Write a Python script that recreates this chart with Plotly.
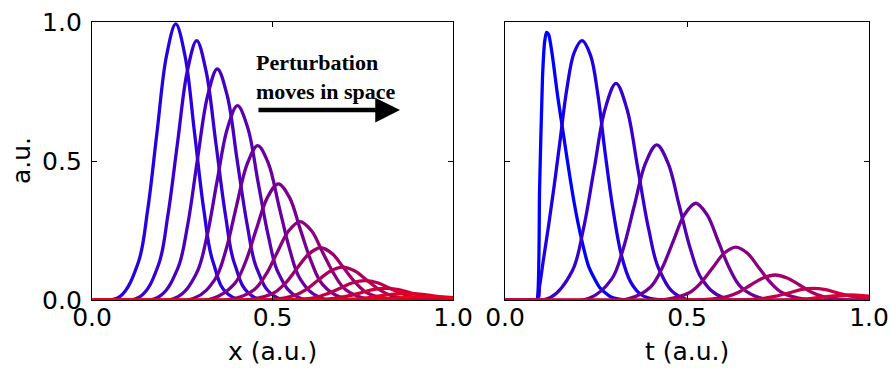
import plotly.graph_objects as go

# ---------------- data ----------------
# Left panel: profiles in space, x (a.u.)
left_x = [
    [0.0, 0.076, 0.128, 0.154, 0.180, 0.206, 0.232, 0.258, 0.284, 0.310, 0.336, 0.388, 1.2],
    [0.0, 0.131, 0.184, 0.210, 0.237, 0.264, 0.290, 0.316, 0.343, 0.370, 0.396, 0.449, 1.2],
    [0.0, 0.182, 0.237, 0.265, 0.292, 0.320, 0.347, 0.375, 0.402, 0.430, 0.457, 0.512, 1.2],
    [0.0, 0.232, 0.289, 0.318, 0.346, 0.375, 0.403, 0.432, 0.460, 0.489, 0.517, 0.574, 1.2],
    [0.0, 0.282, 0.341, 0.371, 0.400, 0.430, 0.459, 0.489, 0.518, 0.548, 0.577, 0.636, 1.2],
    [0.0, 0.333, 0.394, 0.425, 0.455, 0.486, 0.516, 0.547, 0.577, 0.608, 0.638, 0.699, 1.2],
    [0.0, 0.387, 0.450, 0.482, 0.513, 0.545, 0.576, 0.608, 0.639, 0.671, 0.702, 0.765, 1.2],
    [0.0, 0.438, 0.503, 0.536, 0.568, 0.601, 0.633, 0.666, 0.698, 0.731, 0.763, 0.828, 1.2],
    [0.0, 0.493, 0.560, 0.594, 0.627, 0.661, 0.694, 0.728, 0.761, 0.795, 0.828, 0.895, 1.2],
    [0.0, 0.549, 0.618, 0.653, 0.687, 0.722, 0.756, 0.791, 0.825, 0.860, 0.894, 0.963, 1.2],
    [0.0, 0.600, 0.671, 0.707, 0.742, 0.778, 0.813, 0.849, 0.884, 0.920, 0.955, 1.026, 1.2],
    [0.0, 0.653, 0.726, 0.763, 0.799, 0.836, 0.872, 0.909, 0.945, 0.982, 1.018, 1.091, 1.2],
    [0.0, 0.705, 0.780, 0.818, 0.855, 0.893, 0.930, 0.968, 1.005, 1.043, 1.080, 1.155, 1.2],
]
left_y = [
    [0.0, 0.011, 0.134, 0.322, 0.602, 0.876, 0.993, 0.876, 0.602, 0.322, 0.134, 0.011, 0.0],
    [0.0, 0.010, 0.126, 0.303, 0.566, 0.823, 0.933, 0.823, 0.566, 0.303, 0.126, 0.010, 0.0],
    [0.0, 0.009, 0.112, 0.270, 0.504, 0.733, 0.831, 0.733, 0.504, 0.270, 0.112, 0.009, 0.0],
    [0.0, 0.008, 0.095, 0.227, 0.424, 0.617, 0.699, 0.617, 0.424, 0.227, 0.095, 0.008, 0.0],
    [0.0, 0.006, 0.075, 0.180, 0.337, 0.490, 0.555, 0.490, 0.337, 0.180, 0.075, 0.006, 0.0],
    [0.0, 0.005, 0.057, 0.136, 0.254, 0.369, 0.418, 0.369, 0.254, 0.136, 0.057, 0.005, 0.0],
    [0.0, 0.003, 0.038, 0.092, 0.171, 0.249, 0.282, 0.249, 0.171, 0.092, 0.038, 0.003, 0.0],
    [0.0, 0.002, 0.025, 0.061, 0.114, 0.166, 0.188, 0.166, 0.114, 0.061, 0.025, 0.002, 0.0],
    [0.0, 0.001, 0.016, 0.038, 0.072, 0.104, 0.118, 0.104, 0.072, 0.038, 0.016, 0.001, 0.0],
    [0.0, 0.001, 0.009, 0.023, 0.042, 0.062, 0.070, 0.062, 0.042, 0.023, 0.009, 0.001, 0.0],
    [0.0, 0.000, 0.006, 0.014, 0.025, 0.037, 0.042, 0.037, 0.025, 0.014, 0.006, 0.000, 0.0],
    [0.0, 0.000, 0.003, 0.008, 0.015, 0.021, 0.024, 0.021, 0.015, 0.008, 0.003, 0.000, 0.0],
    [0.0, 0.000, 0.002, 0.004, 0.008, 0.011, 0.013, 0.011, 0.008, 0.004, 0.002, 0.000, 0.0],
]

# Right panel: signals in time, t (a.u.)
right_t = [
    [0.0, 0.080, 0.087, 0.095, 0.103, 0.109, 0.114, 0.120, 0.130, 0.145, 0.160, 0.175, 0.190, 0.210, 0.230, 0.260, 0.290, 0.330, 1.2],
    [0.0, 0.088, 0.095, 0.105, 0.120, 0.135, 0.150, 0.170, 0.190, 0.2115, 0.235, 0.255, 0.275, 0.295, 0.320, 0.345, 0.375, 0.410, 0.450, 1.2],
    [0.0, 0.125, 0.185, 0.215, 0.245, 0.275, 0.305, 0.335, 0.365, 0.395, 0.425, 0.485, 1.2],
    [0.0, 0.231, 0.293, 0.324, 0.355, 0.386, 0.417, 0.448, 0.479, 0.510, 0.541, 0.603, 1.2],
    [0.0, 0.338, 0.400, 0.431, 0.462, 0.493, 0.524, 0.555, 0.586, 0.617, 0.648, 0.710, 1.2],
    [0.0, 0.442, 0.506, 0.538, 0.570, 0.602, 0.634, 0.666, 0.698, 0.730, 0.762, 0.826, 1.2],
    [0.0, 0.544, 0.610, 0.643, 0.676, 0.709, 0.742, 0.775, 0.808, 0.841, 0.874, 0.940, 1.2],
    [0.0, 0.643, 0.711, 0.745, 0.779, 0.813, 0.847, 0.881, 0.915, 0.949, 0.983, 1.051, 1.2],
    [0.0, 0.738, 0.808, 0.843, 0.878, 0.913, 0.948, 0.983, 1.018, 1.053, 1.088, 1.158, 1.2],
]
right_y = [
    [0.0, 0.0, 0.0, 0.40, 0.80, 0.93, 0.963, 0.955, 0.88, 0.73, 0.60, 0.47, 0.35, 0.22, 0.12, 0.045, 0.012, 0.0, 0.0],
    [0.0, 0.0, 0.05, 0.14, 0.27, 0.41, 0.56, 0.76, 0.89, 0.933, 0.88, 0.74, 0.53, 0.34, 0.16, 0.065, 0.018, 0.003, 0.0, 0.0],
    [0.0, 0.009, 0.105, 0.253, 0.472, 0.687, 0.779, 0.687, 0.472, 0.253, 0.105, 0.009, 0.0],
    [0.0, 0.006, 0.075, 0.181, 0.338, 0.492, 0.558, 0.492, 0.338, 0.181, 0.075, 0.006, 0.0],
    [0.0, 0.004, 0.047, 0.113, 0.211, 0.307, 0.348, 0.307, 0.211, 0.113, 0.047, 0.004, 0.0],
    [0.0, 0.002, 0.026, 0.062, 0.115, 0.168, 0.190, 0.168, 0.115, 0.062, 0.026, 0.002, 0.0],
    [0.0, 0.001, 0.012, 0.029, 0.055, 0.079, 0.090, 0.079, 0.055, 0.029, 0.012, 0.001, 0.0],
    [0.0, 0.000, 0.006, 0.014, 0.025, 0.037, 0.042, 0.037, 0.025, 0.014, 0.006, 0.000, 0.0],
    [0.0, 0.000, 0.002, 0.006, 0.011, 0.016, 0.018, 0.016, 0.011, 0.006, 0.002, 0.000, 0.0],
]

tick_vals = [0.0, 0.5, 1.0]
tick_text = ["0.0", "0.5", "1.0"]
x_title_left = "x (a.u.)"
x_title_right = "t (a.u.)"
y_title = "a.u."
note_text = "<b>Perturbation<br>moves in space</b>"

# ---------------- styles ----------------
def blend(c0, c1, n):
    out = []
    for i in range(n):
        f = i / (n - 1) if n > 1 else 0
        r = round(c0[0] + (c1[0] - c0[0]) * f)
        g = round(c0[1] + (c1[1] - c0[1]) * f)
        b = round(c0[2] + (c1[2] - c0[2]) * f)
        out.append(f"rgb({r},{g},{b})")
    return out

left_colors = blend((40, 0, 225), (235, 0, 25), len(left_x))
right_colors = blend((0, 0, 255), (220, 0, 50), len(right_t))

W, H = 891, 370
# plot areas in pixels
L_x0, L_x1 = 92, 453
R_x0, R_x1 = 505, 869
P_top, P_bot = 22, 300

fig = go.Figure()
for xs, ys, c in zip(left_x, left_y, left_colors):
    fig.add_trace(go.Scatter(x=xs, y=ys, mode="lines", xaxis="x", yaxis="y",
                             line=dict(color=c, width=3.3, shape="spline"),
                             hoverinfo="skip", showlegend=False))
for i, (xs, ys, c) in enumerate(zip(right_t, right_y, right_colors)):
    fig.add_trace(go.Scatter(x=xs, y=ys, mode="lines", xaxis="x2", yaxis="y2",
                             line=dict(color=c, width=3.3, shape="spline",
                                       smoothing=0.6 if i == 0 else 1.0),
                             hoverinfo="skip", showlegend=False))

font_main = "DejaVu Sans"
axis_common = dict(range=[0, 1], tickvals=tick_vals, ticktext=tick_text,
                   ticks="inside", ticklen=5, tickwidth=1.2, tickcolor="black",
                   showline=True, linecolor="black", linewidth=1.3, mirror="ticks",
                   showgrid=False, zeroline=False, automargin=False,
                   tickfont=dict(family=font_main, size=25, color="black"))

ydom = [(H - P_bot) / H, (H - P_top) / H]
fig.update_layout(
    width=W, height=H,
    margin=dict(l=0, r=0, t=0, b=0, pad=0, autoexpand=False),
    paper_bgcolor="white", plot_bgcolor="white",
    showlegend=False,
    xaxis=dict(domain=[L_x0 / W, L_x1 / W], anchor="y", ticklabelstandoff=-5, **axis_common),
    yaxis=dict(domain=ydom, anchor="x", ticklabelstandoff=4, **axis_common),
    xaxis2=dict(domain=[R_x0 / W, R_x1 / W], anchor="y2", ticklabelstandoff=-5, **axis_common),
    yaxis2=dict(domain=ydom, anchor="x2", showticklabels=False, **axis_common),
)

# axis titles
for txt, cx in ((x_title_left, (L_x0 + L_x1) / 2), (x_title_right, (R_x0 + R_x1) / 2)):
    fig.add_annotation(text=txt, xref="paper", yref="paper",
                       x=cx / W, y=(H - 351) / H, xanchor="center", yanchor="middle",
                       showarrow=False, font=dict(family=font_main, size=25, color="black"))
fig.add_annotation(text=y_title, xref="paper", yref="paper",
                   x=21 / W, y=(H - 161) / H, xanchor="center", yanchor="middle",
                   showarrow=False, textangle=-90,
                   font=dict(family=font_main, size=25, color="black"))

# note and arrow
fig.add_annotation(text=note_text, xref="paper", yref="paper",
                   x=254 / W, y=(H - 48) / H, xanchor="left", yanchor="top",
                   align="left", showarrow=False,
                   font=dict(family="Liberation Serif", size=22, color="black"))
fig.add_annotation(text="", xref="x", yref="y", axref="x", ayref="y",
                   x=(400 - L_x0) / (L_x1 - L_x0), y=(P_bot - 110) / (P_bot - P_top),
                   ax=(257 - L_x0) / (L_x1 - L_x0), ay=(P_bot - 110) / (P_bot - P_top),
                   showarrow=True, arrowhead=2, arrowsize=1.1, arrowwidth=4.5,
                   arrowcolor="black", standoff=0)

fig.write_html("out.html", config={"displayModeBar": False})
